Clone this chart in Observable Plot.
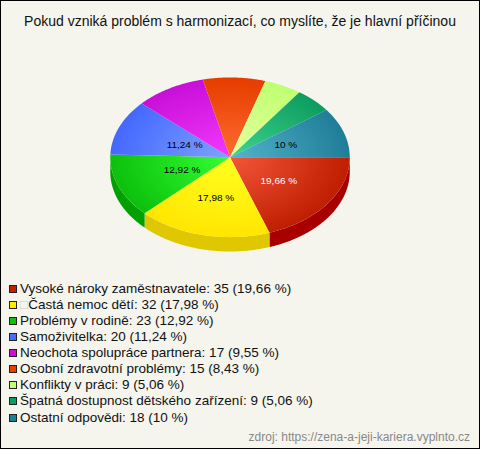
<!DOCTYPE html>
<html><head><meta charset="utf-8">
<script src="https://cdn.jsdelivr.net/npm/d3@7"></script>
<script src="https://cdn.jsdelivr.net/npm/@observablehq/plot@0.6"></script>
<style>
html,body{margin:0;padding:0;background:#f5f5ed}
#frame{position:relative;box-sizing:border-box;width:480px;height:449px;background:#f5f5ed;border:1px solid #000;overflow:hidden;font-family:"Liberation Sans",Arial,sans-serif;color:#111}
#title{position:absolute;left:-1px;width:480px;top:12px;text-align:center;font-size:14px;line-height:16px;white-space:nowrap}
#chart{position:absolute;left:-1px;top:59px}
#chart svg{display:block;background:transparent}
#legend{position:absolute;left:8px;top:280px;font-size:13.5px;line-height:16.07px;white-space:nowrap}
#legend .row{display:flex;align-items:center;height:16.07px}
#legend .sw{box-sizing:border-box;width:8px;height:8px;border:1px solid #222;margin-right:3px;flex:none}
#legend .tofu{color:#ccc}
#source{position:absolute;right:9px;top:429px;font-size:12px;line-height:14px;color:#888;white-space:nowrap}
</style></head>
<body>
<div id="frame">
<div id="title"></div>
<div id="chart"></div>
<div id="legend"></div>
<div id="source"></div>
</div>
<script>
const titleText = "Pokud vzniká problém s harmonizací, co myslíte, že je hlavní příčinou";
const sourceText = "zdroj: https://zena-a-jeji-kariera.vyplnto.cz";
const categories = ["Vysoké nároky zaměstnavatele","\u25A1Častá nemoc dětí","Problémy v rodině","Samoživitelka","Neochota spolupráce partnera","Osobní zdravotní problémy","Konflikty v práci","Špatná dostupnost dětského zařízení","Ostatní odpovědi"];
const counts = [35,32,23,20,17,15,9,9,18];
const percentLabels = ["19,66 %","17,98 %","12,92 %","11,24 %","9,55 %","8,43 %","5,06 %","5,06 %","10 %"];
const pieLabels = ["19,66 %","17,98 %","12,92 %","11,24 %",null,null,null,null,"10 %"];
const labelColors = ["#fff","#000","#000","#000","#000","#000","#000","#000","#000"];
const labelReach = [0.5,0.52,0.43,0.41,0,0,0,0,0.49];
const innerColors = ["#f5553a","#ffff22","#33ff33","#7fa2ff","#f438ff","#ff6c30","#e6ffa2","#3fd58e","#55b4cc"];
const outerColors = ["#bf1e00","#ffe600","#0cc00c","#4468ff","#c80fd8","#e63c00","#bfff70","#0d9c60","#1f7d98"];
const legendColors = ["#c32000","#ffee00","#10c010","#4a6cff","#c810d8","#e84000","#c4ff78","#0f9c60","#207f98"];
const sideColors = ["#a80000","#e0c800","#00a000"];
const depth = 0.18;

const total = d3.sum(counts);
const cum = d3.cumsum(counts);
const span = i => [(i ? cum[i-1] : 0) / total * 2 * Math.PI, cum[i] / total * 2 * Math.PI];
const arc = (a, b) => d3.range(0, 91).map(k => a + (b - a) * k / 90);

const topPts = counts.flatMap((_, i) => {
  const [a, b] = span(i);
  return [{i, x: 0, y: 0}, ...arc(a, b).map(t => ({i, x: Math.cos(t), y: Math.sin(t)}))];
});
const sidePts = sideColors.flatMap((_, i) => {
  const [a, b] = span(i);
  const ts = arc(a, b);
  return [...ts.map(t => ({i, x: Math.cos(t), y: Math.sin(t)})),
          ...ts.slice().reverse().map(t => ({i, x: Math.cos(t), y: Math.sin(t) + depth}))];
});
const labelRows = counts.flatMap((_, i) => {
  if (!pieLabels[i]) return [];
  const [a, b] = span(i), m = (a + b) / 2, r = labelReach[i];
  return [{x: r * Math.cos(m), y: r * Math.sin(m), text: pieLabels[i], color: labelColors[i]}];
});

const gradients = (index, scales) => {
  const svgNS = "http://www.w3.org/2000/svg";
  const defs = document.createElementNS(svgNS, "defs");
  const cx = scales.x(0), cy = scales.y(0), rx = scales.x(1) - cx, ry = scales.y(1) - cy;
  counts.forEach((_, i) => {
    const g = document.createElementNS(svgNS, "radialGradient");
    g.setAttribute("id", "g" + i);
    g.setAttribute("gradientUnits", "userSpaceOnUse");
    g.setAttribute("cx", 0); g.setAttribute("cy", 0); g.setAttribute("r", 1);
    g.setAttribute("gradientTransform", `translate(${cx},${cy}) scale(${rx},${ry})`);
    [[0, innerColors[i]], [1, outerColors[i]]].forEach(([o, c]) => {
      const s = document.createElementNS(svgNS, "stop");
      s.setAttribute("offset", o); s.setAttribute("stop-color", c);
      g.appendChild(s);
    });
    defs.appendChild(g);
  });
  return defs;
};

const plot = Plot.plot({
  width: 480, height: 200,
  marginTop: 0, marginRight: 0, marginBottom: 0, marginLeft: 0,
  x: {domain: [-1, 1], range: [110, 350], axis: null},
  y: {domain: [-1, 1], range: [17, 177], axis: null},
  color: {type: "identity"},
  style: {background: "transparent"},
  marks: [
    gradients,
    Plot.line(sidePts, {x: "x", y: "y", z: "i", fill: d => sideColors[d.i], stroke: "none"}),
    Plot.line(topPts, {x: "x", y: "y", z: "i", fill: d => `url(#g${d.i})`, stroke: "none"}),
    Plot.text(labelRows, {x: "x", y: "y", text: "text", fill: "color", fontSize: 10, fontFamily: "Liberation Sans, Arial, sans-serif"})
  ]
});
document.getElementById("chart").appendChild(plot);
document.getElementById("title").textContent = titleText;
document.getElementById("source").textContent = sourceText;
const legend = document.getElementById("legend");
categories.forEach((c, i) => {
  const row = document.createElement("div"); row.className = "row";
  const sw = document.createElement("span"); sw.className = "sw"; sw.style.background = legendColors[i];
  row.appendChild(sw);
  const label = document.createElement("span");
  if (c[0] === "\u25A1") {
    const t = document.createElement("span"); t.className = "tofu"; t.textContent = c[0];
    label.appendChild(t);
    label.appendChild(document.createTextNode(`${c.slice(1)}: ${counts[i]} (${percentLabels[i]})`));
  } else {
    label.textContent = `${c}: ${counts[i]} (${percentLabels[i]})`;
  }
  row.appendChild(label);
  legend.appendChild(row);
});
</script>
</body></html>
